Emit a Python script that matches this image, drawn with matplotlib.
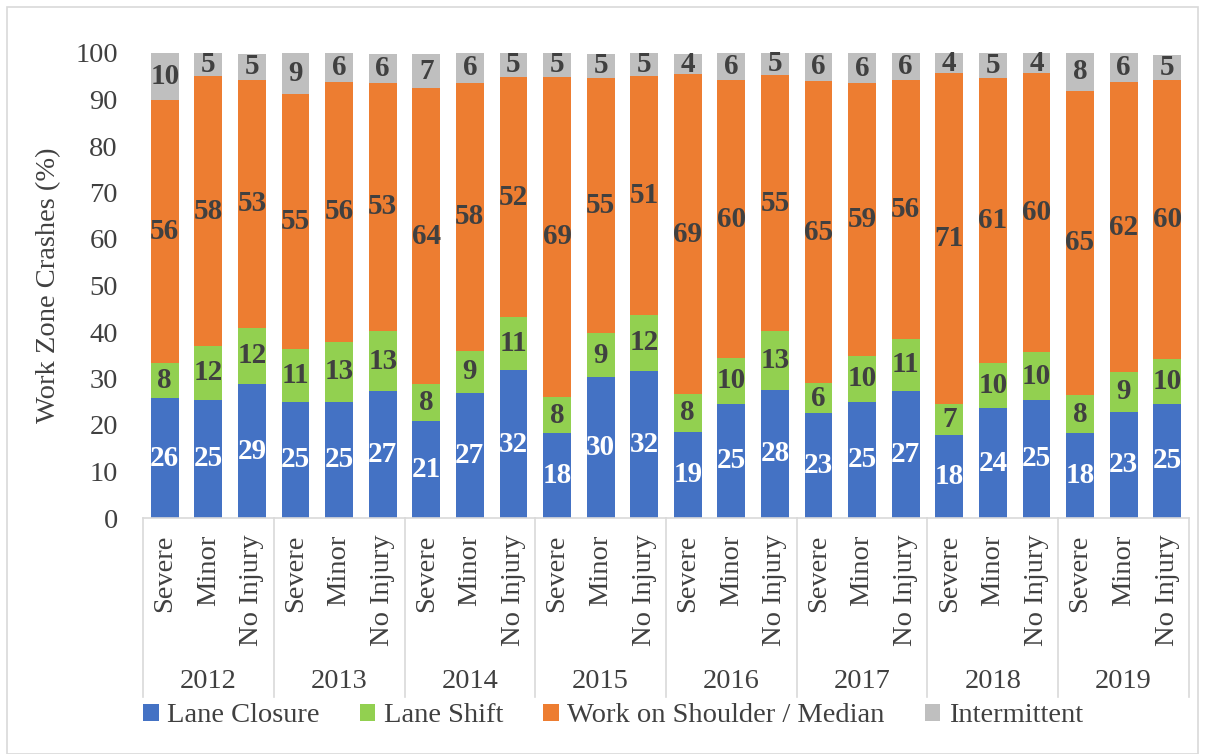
import matplotlib
matplotlib.use("Agg")
import matplotlib.pyplot as plt
from matplotlib.patches import Patch, Rectangle
import numpy as np

plt.rcParams['font.family'] = ['Liberation Serif', 'DejaVu Serif']

# Category labels
years = ['2012', '2013', '2014', '2015', '2016', '2017', '2018', '2019']
severity = ['Severe', 'Minor', 'No Injury']

# Share of work zone crashes (%), one value per (year, severity) bar
lane_closure = [25.8, 25.4, 28.8, 25.0, 25.0, 27.3, 20.8, 26.9, 31.8, 18.2, 30.3, 31.6,
                18.6, 24.6, 27.6, 22.6, 25.0, 27.3, 17.8, 23.6, 25.4, 18.2, 22.8, 24.6]
lane_shift = [7.6, 11.6, 12.1, 11.4, 12.9, 12.9, 8.0, 9.1, 11.4, 7.9, 9.4, 12.1,
              8.0, 9.9, 12.6, 6.4, 9.9, 11.3, 6.8, 9.8, 10.2, 8.3, 8.6, 9.6]
shoulder = [56.4, 58.0, 53.4, 54.8, 55.9, 53.4, 63.6, 57.6, 51.6, 68.8, 55.0, 51.3,
            68.8, 59.6, 55.0, 65.0, 58.6, 55.6, 71.0, 61.2, 60.0, 65.4, 62.3, 60.0]
intermittent = [10.3, 5.1, 5.4, 8.8, 6.2, 6.2, 7.4, 6.4, 5.4, 5.1, 5.1, 5.1,
                4.4, 5.9, 5.1, 6.2, 6.4, 5.9, 4.4, 5.4, 4.4, 8.1, 6.4, 5.4]

series = [
    ('Lane Closure', lane_closure, '#4472C4', 'white'),
    ('Lane Shift', lane_shift, '#92D050', '#404040'),
    ('Work on Shoulder / Median', shoulder, '#ED7D31', '#404040'),
    ('Intermittent', intermittent, '#BFBFBF', '#404040'),
]

text_color = '#404040'
fs = 20.5
label_fs = 21

fig = plt.figure(figsize=(12.05, 7.54), dpi=100)
W, H = 1205, 754
# axes box in pixel coordinates of the reference
left, right, top, bottom = 143, 1189, 53, 518
ax = fig.add_axes([left / W, 1 - bottom / H, (right - left) / W, (bottom - top) / H])

# light frame round the whole chart
fig.patches.append(Rectangle((7 / W, 0.0), (1198 - 7) / W, 1 - 7 / H, transform=fig.transFigure,
                             fill=False, edgecolor='#D9D9D9', linewidth=1.2))

n = len(years) * len(severity)
x = np.arange(n)
bottoms = np.zeros(n)
for name, vals, color, lab_color in series:
    vals = np.array(vals)
    ax.bar(x, vals, 0.64, bottom=bottoms, color=color, label=name, edgecolor='none')
    for xi, b, v in zip(x, bottoms, vals):
        ax.text(xi, b + v / 2, f'{v:.0f}', ha='center', va='center', fontsize=label_fs,
                fontweight='bold', color=lab_color)
    bottoms = bottoms + vals

ax.set_xlim(-0.5, n - 0.5)
ax.set_ylim(0, 100)
ax.set_yticks(np.arange(0, 101, 10))
ax.tick_params(axis='y', length=0, pad=18, labelsize=fs, labelcolor=text_color)
ax.set_xticks(x, severity * len(years), rotation=90)
ax.tick_params(axis='x', length=0, pad=12, labelsize=fs, labelcolor=text_color)
for s in ['top', 'right', 'left']:
    ax.spines[s].set_visible(False)
ax.spines['bottom'].set_color('#D9D9D9')
ax.spines['bottom'].set_linewidth(1.2)

ax.set_ylabel('Work Zone Crashes (%)', fontsize=fs, color=text_color, labelpad=10)

# year groups under the severity labels
trans = ax.get_xaxis_transform()
sep_bottom = (bottom - 697) / (bottom - top)
year_y = (bottom - 681) / (bottom - top)
for i in range(len(years) + 1):
    ax.plot([i * 3 - 0.5] * 2, [0, sep_bottom], transform=trans, color='#D9D9D9',
            linewidth=1.2, clip_on=False)
for i, yr in enumerate(years):
    ax.text(i * 3 + 1, year_y, yr, transform=trans, ha='center', va='center',
            fontsize=fs, color=text_color)

handles = [Patch(facecolor=c, label=nm) for nm, _, c, _ in series]
fig.legend(handles=handles, loc='center', bbox_to_anchor=(613 / W, 1 - 716 / H), ncol=4,
           frameon=False, fontsize=fs, handlelength=0.55, handleheight=0.55,
           handletextpad=0.3, columnspacing=1.4, labelcolor=text_color, borderpad=0)

fig.savefig('out.png', dpi=100)
